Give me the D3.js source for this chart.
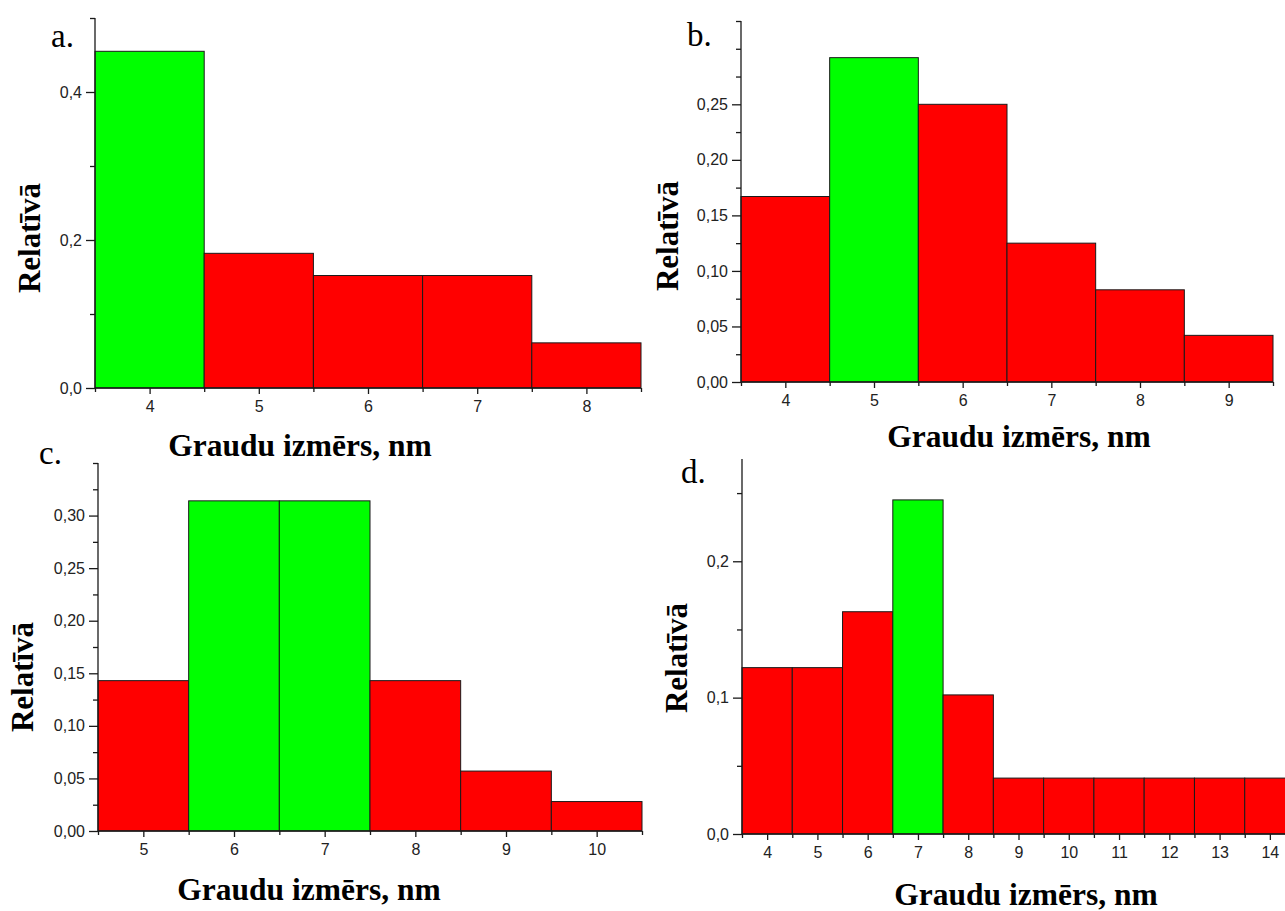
<!DOCTYPE html>
<html>
<head>
<meta charset="utf-8">
<script src="https://cdn.jsdelivr.net/npm/d3@7"></script>
<style>
  body { margin: 0; background: #fff; }
  svg { display: block; }
</style>
</head>
<body>
<div id="vis"></div>
<script>
// dati - graudu izmēru sadalījums (4 paraugi)
const sizesA = [4, 5, 6, 7, 8];
const valuesA = [0.455, 0.182, 0.152, 0.152, 0.061];
const greenA = [4];
const yTicksA = [0, 0.2, 0.4];
const yLabelsA = ["0,0", "0,2", "0,4"];
const yMinorA = [0.1, 0.3, 0.5];

const sizesB = [4, 5, 6, 7, 8, 9];
const valuesB = [0.167, 0.292, 0.25, 0.125, 0.083, 0.042];
const greenB = [5];
const yTicksB = [0, 0.05, 0.10, 0.15, 0.20, 0.25];
const yLabelsB = ["0,00", "0,05", "0,10", "0,15", "0,20", "0,25"];
const yMinorB = [0.025, 0.075, 0.125, 0.175, 0.225, 0.275, 0.30, 0.325];

const sizesC = [5, 6, 7, 8, 9, 10];
const valuesC = [0.143, 0.314, 0.314, 0.143, 0.057, 0.028];
const greenC = [6, 7];
const yTicksC = [0, 0.05, 0.10, 0.15, 0.20, 0.25, 0.30];
const yLabelsC = ["0,00", "0,05", "0,10", "0,15", "0,20", "0,25", "0,30"];
const yMinorC = [0.025, 0.075, 0.125, 0.175, 0.225, 0.275, 0.325, 0.35];

const sizesD = [4, 5, 6, 7, 8, 9, 10, 11, 12, 13, 14];
const valuesD = [0.122, 0.122, 0.163, 0.245, 0.102, 0.041, 0.041, 0.041, 0.041, 0.041, 0.041];
const greenD = [7];
const yTicksD = [0, 0.1, 0.2];
const yLabelsD = ["0,0", "0,1", "0,2"];
const yMinorD = [0.05, 0.15, 0.25];

const xTitle = "Graudu izmērs, nm";
const yTitle = "Relatīvā";

const svg = d3.select("#vis").append("svg")
    .attr("width", 1285)
    .attr("height", 911);

function drawPanel(p) {
    const x = d3.scaleLinear().domain(p.xDom).range([p.left, p.right]);
    const y = d3.scaleLinear().domain(p.yDom).range([p.bottom, p.top]);
    const g = svg.append("g");

    // stabini
    g.selectAll("rect")
        .data(p.sizes.map((s, i) => ({ s: s, v: p.values[i] })))
        .join("rect")
        .attr("x", d => x(d.s - 0.5))
        .attr("y", d => y(d.v))
        .attr("width", d => x(d.s + 0.5) - x(d.s - 0.5))
        .attr("height", d => y(0) - y(d.v))
        .attr("fill", d => p.green.includes(d.s) ? "#00ff00" : "#ff0000")
        .attr("stroke", "#1a1a1a")
        .attr("stroke-width", 1);

    // x ass
    const edges = p.sizes.map(s => s - 0.5).concat([p.sizes[p.sizes.length - 1] + 0.5]);
    g.append("g")
        .attr("transform", `translate(0,${p.bottom})`)
        .call(d3.axisBottom(x).tickValues(edges).tickSize(4).tickFormat(""))
        .call(a => a.select(".domain").remove());
    g.append("g")
        .attr("class", "xax")
        .attr("transform", `translate(0,${p.bottom})`)
        .call(d3.axisBottom(x).tickValues(p.sizes).tickSize(6).tickPadding(6.5)
            .tickFormat(d => String(d)))
        .call(a => a.select(".domain").attr("d", `M${p.left},0H${p.right}`));

    // y ass
    g.append("g")
        .attr("transform", `translate(${p.left},0)`)
        .call(d3.axisLeft(y).tickValues(p.yMinor).tickSize(5).tickFormat(""))
        .call(a => a.select(".domain").remove());
    g.append("g")
        .attr("transform", `translate(${p.left},0)`)
        .call(d3.axisLeft(y).tickValues(p.yTicks).tickSize(9).tickPadding(4)
            .tickFormat((d, i) => p.yLabels[i]))
        .call(a => a.select(".domain").attr("d", `M0,${p.bottom}V${p.top}`));

    g.selectAll(".domain, .tick line")
        .attr("stroke", "#1a1a1a")
        .attr("stroke-width", 1.3);
    g.selectAll(".tick text")
        .attr("fill", "#222")
        .style("font-family", "'Liberation Sans', Arial, sans-serif")
        .style("font-size", "16px");

    // nosaukumi
    g.append("text")
        .attr("x", p.xTitle[0])
        .attr("y", p.xTitle[1])
        .attr("text-anchor", "middle")
        .style("font-family", "'Liberation Serif', 'Times New Roman', serif")
        .style("font-weight", "bold")
        .style("font-size", "31.5px")
        .text(xTitle);

    g.append("text")
        .attr("transform", `translate(${p.yTitle[0]},${p.yTitle[1]}) rotate(-90)`)
        .attr("text-anchor", "middle")
        .style("font-family", "'Liberation Serif', 'Times New Roman', serif")
        .style("font-weight", "bold")
        .style("font-size", "31px")
        .text(yTitle);

    g.append("text")
        .attr("x", p.letter[0])
        .attr("y", p.letter[1])
        .style("font-family", "'Liberation Serif', 'Times New Roman', serif")
        .style("font-size", "33px")
        .text(p.name);
}

drawPanel({
    name: "a.", sizes: sizesA, values: valuesA, green: greenA,
    yTicks: yTicksA, yLabels: yLabelsA, yMinor: yMinorA,
    xDom: [3.5, 8.5], yDom: [0, 0.5],
    left: 95, right: 641, bottom: 388, top: 18,
    xTitle: [300, 456], yTitle: [40, 238], letter: [51, 47]
});

drawPanel({
    name: "b.", sizes: sizesB, values: valuesB, green: greenB,
    yTicks: yTicksB, yLabels: yLabelsB, yMinor: yMinorB,
    xDom: [3.5, 9.5], yDom: [0, 0.325],
    left: 741, right: 1273, bottom: 382, top: 21,
    xTitle: [1019, 447], yTitle: [678, 236], letter: [687, 46]
});

drawPanel({
    name: "c.", sizes: sizesC, values: valuesC, green: greenC,
    yTicks: yTicksC, yLabels: yLabelsC, yMinor: yMinorC,
    xDom: [4.5, 10.5], yDom: [0, 0.35],
    left: 98, right: 642, bottom: 831, top: 463,
    xTitle: [309, 900], yTitle: [33, 677], letter: [39, 464]
});

drawPanel({
    name: "d.", sizes: sizesD, values: valuesD, green: greenD,
    yTicks: yTicksD, yLabels: yLabelsD, yMinor: yMinorD,
    xDom: [3.5, 14.5], yDom: [0, 0.275],
    left: 742, right: 1295, bottom: 834, top: 459,
    xTitle: [1026, 905], yTitle: [687, 658], letter: [681, 483]
});
</script>
</body>
</html>
